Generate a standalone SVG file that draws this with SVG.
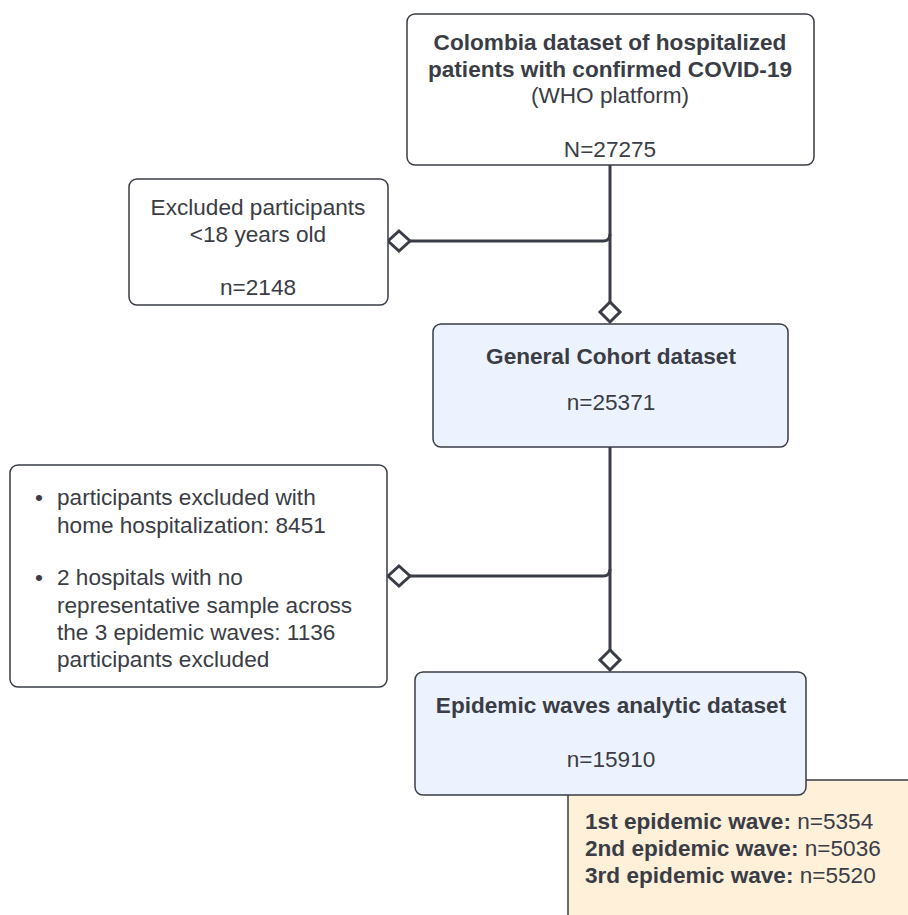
<svg xmlns="http://www.w3.org/2000/svg" width="908" height="915" viewBox="0 0 908 915">
<style>
  text { font-family: "Liberation Sans", Arial, sans-serif; font-size: 22.6px; fill: #3a3d45; }
  .b { font-weight: bold; }
  .c { text-anchor: middle; }
  .box { fill: #ffffff; stroke: #3a3d45; stroke-width: 1.5; }
  .blue { fill: #edf3fe; stroke: #3a3d45; stroke-width: 1.5; }
  .orange { fill: #fff0da; stroke: #3a3d45; stroke-width: 1.5; }
  .line { fill: none; stroke: #3a3d45; stroke-width: 3; }
  .dia { fill: #ffffff; stroke: #3a3d45; stroke-width: 3; }
</style>
<rect width="908" height="915" fill="#ffffff"/>
<g id="waves">
  <rect class="orange" x="568" y="780" width="350" height="150"/>
  <text x="585" y="829"><tspan class="b">1st epidemic wave:</tspan> n=5354</text>
  <text x="585" y="856"><tspan class="b">2nd epidemic wave:</tspan> n=5036</text>
  <text x="585" y="883"><tspan class="b">3rd epidemic wave:</tspan> n=5520</text>
</g>
<g id="connectors">
  <path class="line" d="M610 165 V302"/>
  <path class="line" d="M410 241 H603 Q610 241 610 234"/>
  <path class="line" d="M610 447 V650"/>
  <path class="line" d="M410 576 H603 Q610 576 610 569"/>
  <path class="dia" d="M399 231 L410 241 L399 251 L388 241 Z"/>
  <path class="dia" d="M610 302 L620 312 L610 322 L600 312 Z"/>
  <path class="dia" d="M399 566 L410 576 L399 586 L388 576 Z"/>
  <path class="dia" d="M610 650 L620 660 L610 670 L600 660 Z"/>
</g>
<g id="source">
  <rect class="box" x="407" y="14" width="407" height="151" rx="8"/>
  <text class="b c" x="610" y="50">Colombia dataset of hospitalized</text>
  <text class="b c" x="610" y="77">patients with confirmed COVID-19</text>
  <text class="c" x="610" y="103">(WHO platform)</text>
  <text class="c" x="610" y="157">N=27275</text>
</g>
<g id="excluded1">
  <rect class="box" x="129" y="179" width="259" height="126" rx="8"/>
  <text class="c" x="258" y="215">Excluded participants</text>
  <text class="c" x="258" y="242">&lt;18 years old</text>
  <text class="c" x="258" y="295">n=2148</text>
</g>
<g id="general">
  <rect class="blue" x="433" y="324" width="355" height="123" rx="8"/>
  <text class="b c" x="611" y="364">General Cohort dataset</text>
  <text class="c" x="611" y="410">n=25371</text>
</g>
<g id="excluded2">
  <rect class="box" x="10" y="465" width="377" height="222" rx="8"/>
  <text x="35" y="505">•</text>
  <text x="57" y="505">participants excluded with</text>
  <text x="57" y="533">home hospitalization: 8451</text>
  <text x="35" y="585">•</text>
  <text x="57" y="585">2 hospitals with no</text>
  <text x="57" y="613">representative sample across</text>
  <text x="57" y="640">the 3 epidemic waves: 1136</text>
  <text x="57" y="667">participants excluded</text>
</g>
<g id="analytic">
  <rect class="blue" x="415" y="672" width="391" height="123" rx="8"/>
  <text class="b c" x="611" y="713">Epidemic waves analytic dataset</text>
  <text class="c" x="611" y="767">n=15910</text>
</g>
</svg>
